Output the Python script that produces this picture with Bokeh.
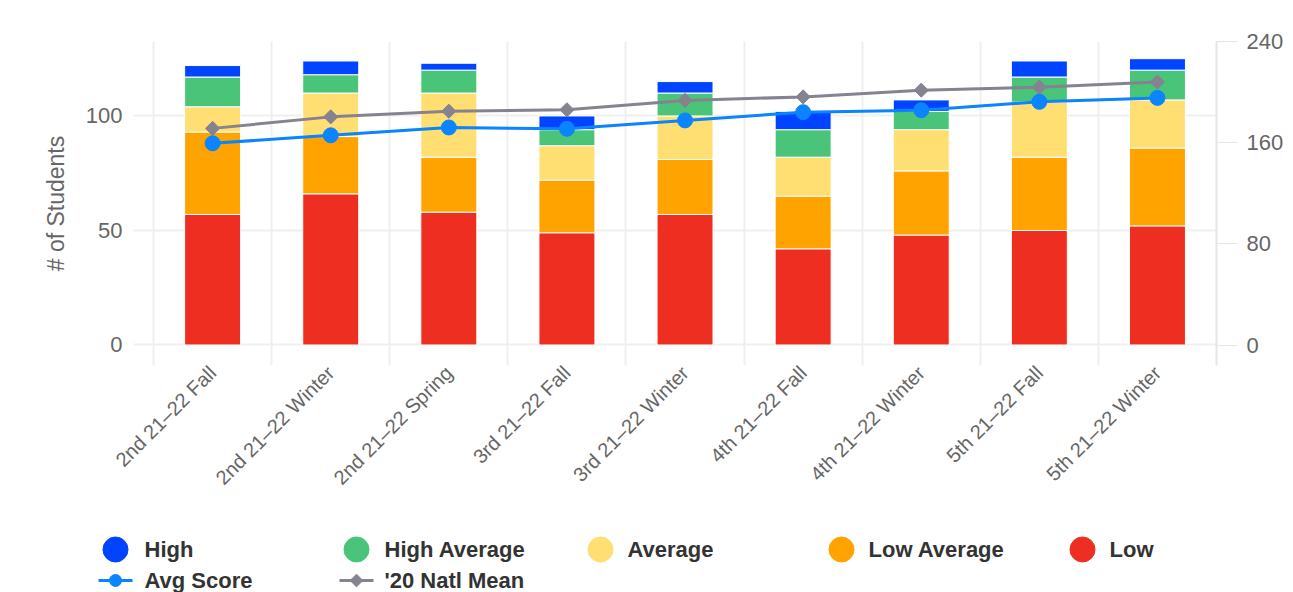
import math

from bokeh.core.properties import value
from bokeh.embed import file_html
from bokeh.models import ColumnDataSource, FixedTicker, LinearAxis, Range1d
from bokeh.plotting import figure
from bokeh.resources import INLINE

# ---- data -------------------------------------------------------------
categories = [
    "2nd 21-22 Fall", "2nd 21-22 Winter", "2nd 21-22 Spring",
    "3rd 21-22 Fall", "3rd 21-22 Winter", "4th 21-22 Fall",
    "4th 21-22 Winter", "5th 21-22 Fall", "5th 21-22 Winter",
]
categories = [c.replace("21-22", "21\u201322") for c in categories]

low = [57, 66, 58, 49, 57, 42, 48, 50, 52]
low_average = [36, 25, 24, 23, 24, 23, 28, 32, 34]
average = [11, 19, 28, 15, 19, 17, 18, 24, 21]
high_average = [13, 8, 10, 7, 10, 12, 8, 11, 13]
high = [5, 6, 3, 6, 5, 8, 5, 7, 5]

avg_score = [159.5, 165.8, 172.0, 171.0, 177.6, 184.1, 185.7, 192.3, 195.4]
natl_mean = [171.3, 180.4, 184.9, 186.0, 193.4, 196.2, 201.5, 203.9, 208.0]

left_ticks = [0, 50, 100]
right_ticks = [0, 80, 160, 240]

# ---- styling ----------------------------------------------------------
FONT = "Liberation Sans"
W = 1293
stack_names = ["Low", "Low Average", "Average", "High Average", "High"]
stack_colors = {
    "Low": "#ef2e22",
    "Low Average": "#ffa300",
    "Average": "#ffdf72",
    "High Average": "#4ac479",
    "High": "#0044ff",
}
AVG_COLOR = "#0a84ff"
NATL_COLOR = "#86828f"
GRID = "#efefef"
AXIS_TEXT = "#666666"

xs = [i + 0.5 for i in range(len(categories))]
source = ColumnDataSource(dict(
    x=xs,
    **{"Low": low, "Low Average": low_average, "Average": average,
       "High Average": high_average, "High": high},
))

# ---- top rule ---------------------------------------------------------
top = figure(width=W, height=4, x_range=Range1d(0, W), y_range=Range1d(0, 4),
             x_axis_type=None, y_axis_type=None, output_backend="svg",
             toolbar_location=None, min_border=0)
top.outline_line_color = None
top.quad(left=12, right=W, bottom=1, top=3, color="#e2e0ea")

# ---- main chart -------------------------------------------------------
p = figure(
    width=W, height=516,
    x_range=Range1d(-0.17, len(categories)),
    y_range=Range1d(-8.95, 132.5),
    output_backend="svg", toolbar_location=None,
    min_border_left=133, min_border_right=77,
    min_border_top=37, min_border_bottom=155,
)
p.outline_line_color = None
p.background_fill_color = "white"
p.border_fill_color = "white"
p.extra_y_ranges = {"right": Range1d(-16.2, 240)}

# grids: horizontal from the left scale, vertical at category boundaries
p.ygrid.ticker = FixedTicker(ticks=left_ticks)
p.ygrid.grid_line_color = GRID
p.ygrid.grid_line_width = 2
p.xgrid.ticker = FixedTicker(ticks=list(range(len(categories) + 1)))
p.xgrid.grid_line_color = GRID
p.xgrid.grid_line_width = 2

# stacked columns
p.vbar_stack(
    stack_names, x="x", width=0.474, source=source,
    color=[stack_colors[n] for n in stack_names],
    line_color="white", line_width=1,
)

# score lines on the right scale
p.line(xs, natl_mean, y_range_name="right", color=NATL_COLOR, line_width=3)
p.scatter(xs, natl_mean, y_range_name="right", marker="square",
          angle=math.pi / 4, size=10, color=NATL_COLOR)
p.line(xs, avg_score, y_range_name="right", color=AVG_COLOR, line_width=3)
p.scatter(xs, avg_score, y_range_name="right", marker="circle",
          size=15, color=AVG_COLOR)

# x axis
xa = p.xaxis[0]
xa.ticker = FixedTicker(ticks=xs)
xa.major_label_overrides = {x: c for x, c in zip(xs, categories)}
xa.major_label_orientation = math.pi / 4
xa.axis_line_color = None
xa.major_tick_line_color = None
xa.minor_tick_line_color = None
xa.major_tick_out = 0
xa.major_tick_in = 0
xa.major_label_standoff = 4
xa.major_label_text_font = FONT
xa.major_label_text_font_size = "20px"
xa.major_label_text_color = AXIS_TEXT

# left axis
ya = p.yaxis[0]
ya.ticker = FixedTicker(ticks=left_ticks)
ya.axis_line_color = None
ya.major_tick_line_color = None
ya.minor_tick_line_color = None
ya.major_tick_out = 0
ya.major_tick_in = 0
ya.major_label_standoff = 11
ya.major_label_text_font = FONT
ya.major_label_text_font_size = "22px"
ya.major_label_text_color = AXIS_TEXT
ya.axis_label = "# of Students"
ya.axis_label_standoff = 14
ya.axis_label_text_font = FONT
ya.axis_label_text_font_size = "23px"
ya.axis_label_text_font_style = "normal"
ya.axis_label_text_color = AXIS_TEXT

# right axis
ra = LinearAxis(y_range_name="right", ticker=FixedTicker(ticks=right_ticks))
ra.axis_line_color = "#e6e6e6"
ra.axis_line_width = 2
ra.major_tick_line_color = "#e6e6e6"
ra.major_tick_line_width = 1
ra.major_tick_out = 21
ra.major_tick_in = 0
ra.minor_tick_line_color = None
ra.major_label_standoff = 9
ra.major_label_text_font = FONT
ra.major_label_text_font_size = "22px"
ra.major_label_text_color = AXIS_TEXT
p.add_layout(ra, "right")

# ---- legend -----------------------------------------------------------
lg = figure(width=W, height=72, x_range=Range1d(0, W), y_range=Range1d(72, 0),
            x_axis_type=None, y_axis_type=None, output_backend="svg",
            toolbar_location=None, min_border=0)
lg.outline_line_color = None
lg.grid.visible = False

legend_order = ["High", "High Average", "Average", "Low Average", "Low"]
dot_x = [115, 356, 600, 841, 1082]
label_x = [144, 384, 627, 868, 1109]
row1, row2 = 29, 60
legend_font = dict(text_font=value(FONT), text_font_size="22px",
                   text_font_style="bold", text_color="#333333",
                   text_baseline="middle", text_align="left")

lg.scatter(dot_x, [row1] * 5, marker="circle", size=25,
           color=[stack_colors[n] for n in legend_order])
lg.text(label_x, [row1] * 5, text=legend_order, **legend_font)

line_names = ["Avg Score", "'20 Natl Mean"]
lg.segment(x0=[98], y0=[row2], x1=[132], y1=[row2], color=AVG_COLOR, line_width=3)
lg.scatter([115], [row2], marker="circle", size=12, color=AVG_COLOR)
lg.segment(x0=[339], y0=[row2], x1=[373], y1=[row2], color=NATL_COLOR, line_width=3)
lg.scatter([356], [row2], marker="square", angle=math.pi / 4, size=9, color=NATL_COLOR)
lg.text([label_x[0], label_x[1]], [row2, row2], text=line_names, **legend_font)

# three independent roots stacked on the page, each keeping its own frame
open("out.html", "w").write(file_html([top, p, lg], INLINE))
